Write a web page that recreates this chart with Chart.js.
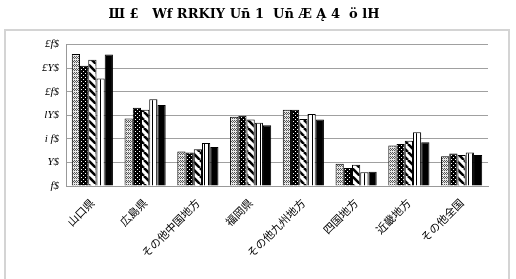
<!DOCTYPE html>
<html>
<head>
<meta charset="utf-8">
<script src="https://cdn.jsdelivr.net/npm/chart.js@4/dist/chart.umd.min.js"></script>
<style>
  html, body { margin: 0; padding: 0; background: #fff; }
  #wrap { position: relative; width: 516px; height: 279px; overflow: hidden; }
  #frame { position: absolute; left: 4px; top: 29px; width: 506px; height: 300px; border: 2px solid #d4d4d4; box-sizing: border-box; }
  canvas { position: absolute; left: 0; top: 0; }
</style>
</head>
<body>
<div id="wrap">
  <div id="frame"></div>
  <canvas id="chart" width="516" height="279"></canvas>
</div>
<script>
const titulo = 'Ш £   Wf RRKIY Uñ 1  Uñ Æ Ą 4  ö lH';
const categorias = ['山口県', '広島県', 'その他中国地方', '福岡県', 'その他九州地方', '四国地方', '近畿地方', 'その他全国'];
const etiquetasY = ['f$', 'Y$', 'i f$', 'lY$', '£f$', '£Y$', '£f$'];

const serie1 = [28.0, 14.3, 7.3, 14.7, 16.2, 4.7, 8.6, 6.3];
const serie2 = [25.5, 16.6, 7.1, 14.9, 16.2, 3.8, 8.9, 6.9];
const serie3 = [26.8, 16.2, 7.8, 14.1, 14.2, 4.5, 9.6, 6.6];
const serie4 = [22.8, 18.4, 9.1, 13.4, 15.3, 2.9, 11.4, 7.1];
const serie5 = [27.9, 17.2, 8.3, 12.9, 14.1, 3.0, 9.3, 6.6];

function hacerPatron(w, h, dibujar) {
    const c = document.createElement('canvas');
    c.width = w; c.height = h;
    const g = c.getContext('2d');
    dibujar(g);
    return document.getElementById('chart').getContext('2d').createPattern(c, 'repeat');
}

// cuadriculado gris
const patCruz = hacerPatron(4, 4, g => {
    g.fillStyle = '#e8e8e8'; g.fillRect(0, 0, 4, 4);
    g.fillStyle = '#555';
    g.fillRect(0, 0, 1, 1); g.fillRect(2, 0, 1, 1);
    g.fillRect(1, 1, 1, 1); g.fillRect(3, 1, 1, 1);
    g.fillRect(0, 2, 1, 1); g.fillRect(2, 2, 1, 1);
});
// negro con puntos blancos
const patPuntos = hacerPatron(4, 4, g => {
    g.fillStyle = '#000'; g.fillRect(0, 0, 4, 4);
    g.fillStyle = '#fff';
    g.fillRect(1, 1, 1, 1);
    g.fillRect(3, 3, 1, 1);
});
// rayas diagonales
const patDiag = hacerPatron(8, 8, g => {
    g.fillStyle = '#fff'; g.fillRect(0, 0, 8, 8);
    g.strokeStyle = '#000'; g.lineWidth = 2.6;
    for (let k = -8; k <= 8; k += 8) {
        g.beginPath(); g.moveTo(k, 0); g.lineTo(k + 8, 8); g.stroke();
    }
});
// rayas verticales
const patVert = hacerPatron(4, 4, g => {
    g.fillStyle = '#fff'; g.fillRect(0, 0, 4, 4);
    g.fillStyle = '#000'; g.fillRect(0, 0, 1, 4);
});

const rellenos = [patCruz, patPuntos, patDiag, patVert, '#000'];
const series = [serie1, serie2, serie3, serie4, serie5];

const ctx = document.getElementById('chart').getContext('2d');
new Chart(ctx, {
    type: 'bar',
    data: {
        labels: categorias,
        datasets: series.map((s, i) => ({
            label: 'S' + (i + 1),
            data: s,
            backgroundColor: rellenos[i],
            borderColor: '#000',
            borderWidth: 1,
            categoryPercentage: 0.78,
            barPercentage: 1
        }))
    },
    options: {
        responsive: false,
        animation: false,
        layout: { padding: { left: 0, right: 28, top: 0, bottom: 0 } },
        plugins: {
            legend: { display: false },
            tooltip: { enabled: false },
            title: {
                display: true,
                text: titulo,
                color: '#000',
                font: { family: 'DejaVu Serif', size: 13, weight: 'bold' },
                padding: { top: 7, bottom: 22 }
            }
        },
        scales: {
            x: {
                grid: { display: false },
                border: { color: '#999' },
                ticks: {
                    color: '#000',
                    maxRotation: 45,
                    minRotation: 45,
                    autoSkip: false,
                    padding: 2,
                    font: { family: 'Noto Sans CJK JP', size: 11 }
                },
                afterFit: s => { s.height = 93; }
            },
            y: {
                min: 0,
                max: 30,
                ticks: {
                    stepSize: 5,
                    color: '#000',
                    padding: 7,
                    font: { family: 'Liberation Serif', size: 11, style: 'italic' },
                    callback: (v, i) => etiquetasY[i]
                },
                grid: { color: '#a0a0a0', lineWidth: 1, drawTicks: false },
                border: { color: '#999' },
                afterFit: s => { s.width = 66; }
            }
        }
    }
});
</script>
</body>
</html>
